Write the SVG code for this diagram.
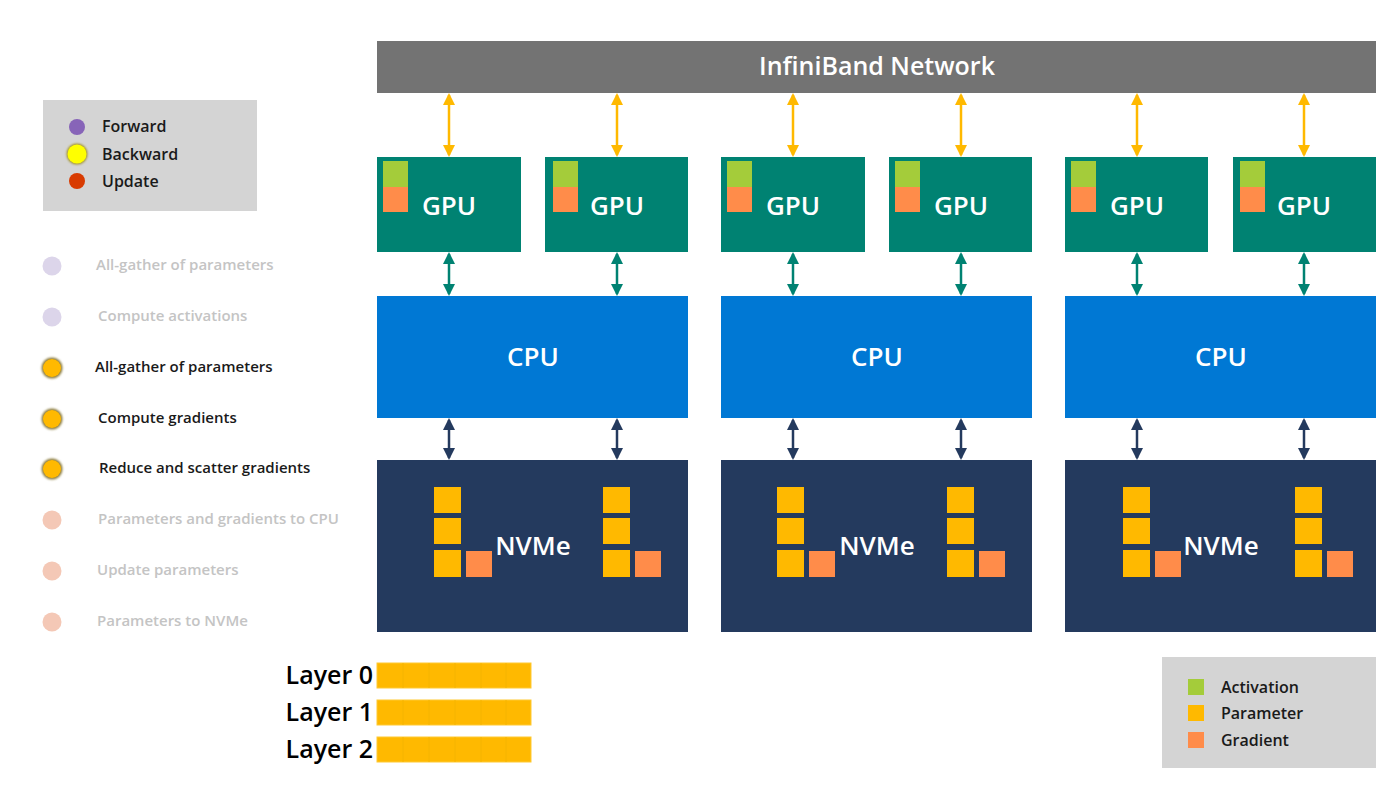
<svg xmlns="http://www.w3.org/2000/svg" width="1399" height="796" viewBox="0 0 1399 796">
<defs>
<style>
text{font-family:"Open Sans","Noto Sans",sans-serif;font-weight:600}
.wt{fill:#ffffff;text-anchor:middle}
.gpu{fill:#008272}
.cpu{fill:#0078d4}
.nvme{fill:#243a5e}
.act{fill:#a4cc3a}
.par{fill:#ffb900}
.grad{fill:#ff8c4a}
.ly{fill:#ffb900}
.lbl{font-size:15px}
.faded{fill:#c4c4c4}
.dark{fill:#1a1a1a}
.ay{stroke:#ffb900;stroke-width:2.5;fill:none}
.ag{stroke:#008272;stroke-width:2.5;fill:none}
.ad{stroke:#243a5e;stroke-width:2.5;fill:none}
</style>
<marker id="my" viewBox="0 0 12 12" refX="10" refY="6" markerWidth="12" markerHeight="12" markerUnits="userSpaceOnUse" orient="auto-start-reverse"><path d="M0,0 L12,6 L0,12 Z" fill="#ffb900"/></marker>
<marker id="mg" viewBox="0 0 12 12" refX="10" refY="6" markerWidth="12" markerHeight="12" markerUnits="userSpaceOnUse" orient="auto-start-reverse"><path d="M0,0 L12,6 L0,12 Z" fill="#008272"/></marker>
<marker id="md" viewBox="0 0 12 12" refX="10" refY="6" markerWidth="12" markerHeight="12" markerUnits="userSpaceOnUse" orient="auto-start-reverse"><path d="M0,0 L12,6 L0,12 Z" fill="#243a5e"/></marker>
<filter id="glow" x="-50%" y="-50%" width="200%" height="200%"><feGaussianBlur stdDeviation="1.2"/></filter>
</defs>
<rect width="1399" height="796" fill="#ffffff"/>

<g id="network">
<rect x="377" y="41" width="999" height="52" fill="#737373"/>
<text class="wt" x="877" y="75" font-size="25" font-weight="700">InfiniBand Network</text>
</g>

<g id="connectors">
<g class="ay">
<line x1="449" y1="95" x2="449" y2="155" marker-start="url(#my)" marker-end="url(#my)"/>
<line x1="617" y1="95" x2="617" y2="155" marker-start="url(#my)" marker-end="url(#my)"/>
<line x1="793" y1="95" x2="793" y2="155" marker-start="url(#my)" marker-end="url(#my)"/>
<line x1="961" y1="95" x2="961" y2="155" marker-start="url(#my)" marker-end="url(#my)"/>
<line x1="1137" y1="95" x2="1137" y2="155" marker-start="url(#my)" marker-end="url(#my)"/>
<line x1="1304" y1="95" x2="1304" y2="155" marker-start="url(#my)" marker-end="url(#my)"/>
</g>
<g class="ag">
<line x1="449" y1="254" x2="449" y2="294" marker-start="url(#mg)" marker-end="url(#mg)"/>
<line x1="617" y1="254" x2="617" y2="294" marker-start="url(#mg)" marker-end="url(#mg)"/>
<line x1="793" y1="254" x2="793" y2="294" marker-start="url(#mg)" marker-end="url(#mg)"/>
<line x1="961" y1="254" x2="961" y2="294" marker-start="url(#mg)" marker-end="url(#mg)"/>
<line x1="1137" y1="254" x2="1137" y2="294" marker-start="url(#mg)" marker-end="url(#mg)"/>
<line x1="1304" y1="254" x2="1304" y2="294" marker-start="url(#mg)" marker-end="url(#mg)"/>
</g>
<g class="ad">
<line x1="449" y1="420" x2="449" y2="458" marker-start="url(#md)" marker-end="url(#md)"/>
<line x1="617" y1="420" x2="617" y2="458" marker-start="url(#md)" marker-end="url(#md)"/>
<line x1="793" y1="420" x2="793" y2="458" marker-start="url(#md)" marker-end="url(#md)"/>
<line x1="961" y1="420" x2="961" y2="458" marker-start="url(#md)" marker-end="url(#md)"/>
<line x1="1137" y1="420" x2="1137" y2="458" marker-start="url(#md)" marker-end="url(#md)"/>
<line x1="1304" y1="420" x2="1304" y2="458" marker-start="url(#md)" marker-end="url(#md)"/>
</g>
</g>

<g id="gpu1"><rect class="gpu" x="377" y="157" width="144" height="95"/><rect class="act" x="383" y="161" width="25" height="26"/><rect class="grad" x="383" y="187" width="25" height="25"/><text class="wt" x="449" y="215" font-size="26">GPU</text></g>
<g id="gpu2"><rect class="gpu" x="545" y="157" width="143" height="95"/><rect class="act" x="553" y="161" width="25" height="26"/><rect class="grad" x="553" y="187" width="25" height="25"/><text class="wt" x="617" y="215" font-size="26">GPU</text></g>
<g id="gpu3"><rect class="gpu" x="721" y="157" width="144" height="95"/><rect class="act" x="727" y="161" width="25" height="26"/><rect class="grad" x="727" y="187" width="25" height="25"/><text class="wt" x="793" y="215" font-size="26">GPU</text></g>
<g id="gpu4"><rect class="gpu" x="889" y="157" width="143" height="95"/><rect class="act" x="895" y="161" width="25" height="26"/><rect class="grad" x="895" y="187" width="25" height="25"/><text class="wt" x="961" y="215" font-size="26">GPU</text></g>
<g id="gpu5"><rect class="gpu" x="1065" y="157" width="143" height="95"/><rect class="act" x="1071" y="161" width="25" height="26"/><rect class="grad" x="1071" y="187" width="25" height="25"/><text class="wt" x="1137" y="215" font-size="26">GPU</text></g>
<g id="gpu6"><rect class="gpu" x="1233" y="157" width="143" height="95"/><rect class="act" x="1240" y="161" width="25" height="26"/><rect class="grad" x="1240" y="187" width="25" height="25"/><text class="wt" x="1304" y="215" font-size="26">GPU</text></g>

<g id="cpu1"><rect class="cpu" x="377" y="296" width="311" height="122"/><text class="wt" x="533" y="366" font-size="26">CPU</text></g>
<g id="cpu2"><rect class="cpu" x="721" y="296" width="311" height="122"/><text class="wt" x="877" y="366" font-size="26">CPU</text></g>
<g id="cpu3"><rect class="cpu" x="1065" y="296" width="311" height="122"/><text class="wt" x="1221" y="366" font-size="26">CPU</text></g>

<g id="nvme1"><rect class="nvme" x="377" y="460" width="311" height="172"/>
<rect class="par" x="434" y="487" width="27" height="26"/><rect class="par" x="434" y="518" width="27" height="26"/><rect class="par" x="434" y="550" width="27" height="27"/><rect class="grad" x="466" y="551" width="26" height="26"/>
<rect class="par" x="603" y="487" width="27" height="26"/><rect class="par" x="603" y="518" width="27" height="26"/><rect class="par" x="603" y="550" width="27" height="27"/><rect class="grad" x="635" y="551" width="26" height="26"/>
<text class="wt" x="533" y="555" font-size="26">NVMe</text></g>
<g id="nvme2"><rect class="nvme" x="721" y="460" width="311" height="172"/>
<rect class="par" x="777" y="487" width="27" height="26"/><rect class="par" x="777" y="518" width="27" height="26"/><rect class="par" x="777" y="550" width="27" height="27"/><rect class="grad" x="809" y="551" width="26" height="26"/>
<rect class="par" x="947" y="487" width="27" height="26"/><rect class="par" x="947" y="518" width="27" height="26"/><rect class="par" x="947" y="550" width="27" height="27"/><rect class="grad" x="979" y="551" width="26" height="26"/>
<text class="wt" x="877" y="555" font-size="26">NVMe</text></g>
<g id="nvme3"><rect class="nvme" x="1065" y="460" width="311" height="172"/>
<rect class="par" x="1123" y="487" width="27" height="26"/><rect class="par" x="1123" y="518" width="27" height="26"/><rect class="par" x="1123" y="550" width="27" height="27"/><rect class="grad" x="1155" y="551" width="26" height="26"/>
<rect class="par" x="1295" y="487" width="27" height="26"/><rect class="par" x="1295" y="518" width="27" height="26"/><rect class="par" x="1295" y="550" width="27" height="27"/><rect class="grad" x="1327" y="551" width="26" height="26"/>
<text class="wt" x="1221" y="555" font-size="26">NVMe</text></g>

<g id="legend-phases">
<rect x="43" y="100" width="214" height="111" fill="#d4d4d4"/>
<circle cx="77" cy="127" r="8" fill="#8764b8"/>
<circle cx="77" cy="154" r="10.5" fill="#a09020" filter="url(#glow)"/>
<circle cx="77" cy="154" r="9.5" fill="#ffff00"/>
<circle cx="77" cy="181" r="8" fill="#d83b01"/>
<text class="dark" x="102" y="132" font-size="16">Forward</text>
<text class="dark" x="102" y="160" font-size="16">Backward</text>
<text class="dark" x="102" y="187" font-size="16">Update</text>
</g>

<g id="steps">
<circle cx="52" cy="266" r="9.5" fill="#dcd5ea"/>
<circle cx="52" cy="317" r="9.5" fill="#dcd5ea"/>
<circle cx="52" cy="368" r="10.5" fill="#8a7a3a" filter="url(#glow)"/><circle cx="52" cy="368" r="9" fill="#ffb900"/>
<circle cx="52" cy="419" r="10.5" fill="#8a7a3a" filter="url(#glow)"/><circle cx="52" cy="419" r="9" fill="#ffb900"/>
<circle cx="52" cy="469" r="10.5" fill="#8a7a3a" filter="url(#glow)"/><circle cx="52" cy="469" r="9" fill="#ffb900"/>
<circle cx="52" cy="520" r="9.5" fill="#f4c8b6"/>
<circle cx="52" cy="571" r="9.5" fill="#f4c8b6"/>
<circle cx="52" cy="622" r="9.5" fill="#f4c8b6"/>
<text class="lbl faded" x="96" y="270">All-gather of parameters</text>
<text class="lbl faded" x="98" y="321">Compute activations</text>
<text class="lbl dark" x="95" y="372">All-gather of parameters</text>
<text class="lbl dark" x="98" y="423">Compute gradients</text>
<text class="lbl dark" x="99" y="473">Reduce and scatter gradients</text>
<text class="lbl faded" x="98" y="524">Parameters and gradients to CPU</text>
<text class="lbl faded" x="97" y="575">Update parameters</text>
<text class="lbl faded" x="97" y="626">Parameters to NVMe</text>
</g>

<g id="layers">
<g stroke="#ffc933" stroke-width="1">
<rect class="ly" x="377" y="663" width="154" height="25"/>
<rect class="ly" x="377" y="700" width="154" height="25"/>
<rect class="ly" x="377" y="737" width="154" height="25"/>
</g>
<g stroke="#f5b400" stroke-width="1">
<line x1="403" y1="663" x2="403" y2="688"/><line x1="429" y1="663" x2="429" y2="688"/><line x1="455" y1="663" x2="455" y2="688"/><line x1="481" y1="663" x2="481" y2="688"/><line x1="506" y1="663" x2="506" y2="688"/>
<line x1="403" y1="700" x2="403" y2="725"/><line x1="429" y1="700" x2="429" y2="725"/><line x1="455" y1="700" x2="455" y2="725"/><line x1="481" y1="700" x2="481" y2="725"/><line x1="506" y1="700" x2="506" y2="725"/>
<line x1="403" y1="737" x2="403" y2="762"/><line x1="429" y1="737" x2="429" y2="762"/><line x1="455" y1="737" x2="455" y2="762"/><line x1="481" y1="737" x2="481" y2="762"/><line x1="506" y1="737" x2="506" y2="762"/>
</g>
<text x="373" y="684" font-size="25" text-anchor="end" fill="#000">Layer 0</text>
<text x="373" y="721" font-size="25" text-anchor="end" fill="#000">Layer 1</text>
<text x="373" y="758" font-size="25" text-anchor="end" fill="#000">Layer 2</text>
</g>

<g id="legend-data">
<rect x="1162" y="657" width="214" height="111" fill="#d4d4d4"/>
<rect class="act" x="1188" y="679" width="16" height="16"/>
<rect class="par" x="1188" y="705" width="16" height="16"/>
<rect class="grad" x="1188" y="732" width="16" height="16"/>
<text class="dark" x="1221" y="693" font-size="16">Activation</text>
<text class="dark" x="1221" y="719" font-size="16">Parameter</text>
<text class="dark" x="1221" y="746" font-size="16">Gradient</text>
</g>
</svg>
